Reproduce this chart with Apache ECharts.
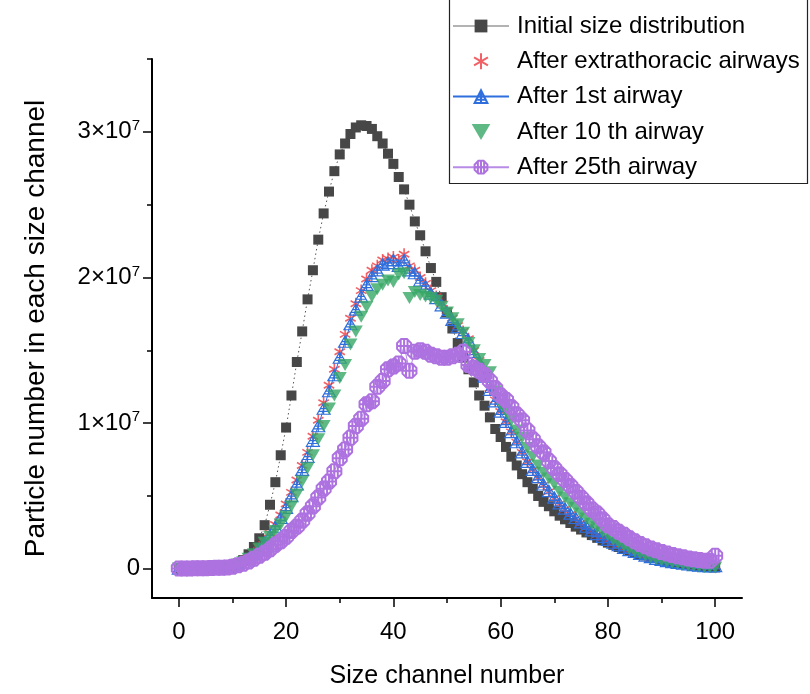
<!DOCTYPE html>
<html>
<head>
<meta charset="utf-8">
<script src="https://cdn.jsdelivr.net/npm/echarts@6/dist/echarts.min.js"></script>
<style>html,body{margin:0;padding:0;background:#fff}#c{width:810px;height:694px}</style>
</head>
<body>
<div id="c"></div>
<script>
// Values in units of 1e7 particles
const channels = [0,1,2,3,4,5,6,7,8,9,10,11,12,13,14,15,16,17,18,19,20,21,22,23,24,25,26,27,28,29,30,31,32,33,34,35,36,37,38,39,40,41,42,43,44,45,46,47,48,49,50,51,52,53,54,55,56,57,58,59,60,61,62,63,64,65,66,67,68,69,70,71,72,73,74,75,76,77,78,79,80,81,82,83,84,85,86,87,88,89,90,91,92,93,94,95,96,97,98,99,100];

const initialDist = [0.002,0.002,0.002,0.003,0.004,0.005,0.006,0.008,0.011,0.015,
0.022,0.035,0.06,0.10,0.15,0.21,0.30,0.44,0.595,0.78,
0.97,1.19,1.42,1.63,1.85,2.05,2.26,2.44,2.59,2.73,
2.845,2.92,2.985,3.03,3.045,3.04,3.02,2.97,2.92,2.85,
2.78,2.69,2.605,2.50,2.385,2.29,2.18,2.065,1.97,1.865,
1.76,1.65,1.55,1.45,1.37,1.28,1.19,1.12,1.04,0.96,
0.905,0.837,0.77,0.71,0.65,0.595,0.55,0.50,0.46,0.43,
0.395,0.365,0.34,0.315,0.29,0.27,0.25,0.232,0.213,0.195,
0.18,0.165,0.15,0.137,0.124,0.113,0.102,0.092,0.083,0.075,
0.068,0.06,0.053,0.046,0.04,0.034,0.028,0.022,0.018,0.014,0.01];

const afterExtrathoracic = [0.002,0.002,0.003,0.003,0.004,0.005,0.006,0.008,0.011,0.015,
0.02,0.03,0.05,0.075,0.11,0.15,0.19,0.245,0.305,0.37,
0.445,0.525,0.61,0.71,0.80,0.91,1.02,1.14,1.26,1.37,
1.49,1.61,1.72,1.82,1.91,1.99,2.05,2.08,2.12,2.13,
2.14,2.12,2.16,2.08,2.05,2.00,1.96,1.91,1.87,1.82,
1.77,1.72,1.67,1.63,1.58,1.50,1.43,1.33,1.24,1.16,
1.08,1.01,0.94,0.87,0.80,0.735,0.68,0.625,0.575,0.53,
0.485,0.445,0.41,0.375,0.345,0.315,0.285,0.26,0.235,0.215,
0.195,0.177,0.16,0.143,0.128,0.115,0.102,0.09,0.079,0.069,
0.06,0.052,0.045,0.039,0.034,0.029,0.025,0.022,0.019,0.017,0.02];

const after1st = [0.002,0.002,0.003,0.003,0.004,0.005,0.006,0.008,0.011,0.015,
0.02,0.03,0.045,0.07,0.10,0.14,0.18,0.23,0.29,0.35,
0.42,0.50,0.58,0.68,0.77,0.88,0.98,1.10,1.22,1.33,
1.45,1.56,1.68,1.78,1.87,1.95,2.01,2.05,2.09,2.10,
2.12,2.08,2.12,2.05,2.03,1.98,1.94,1.89,1.86,1.81,
1.76,1.71,1.66,1.62,1.57,1.49,1.42,1.32,1.23,1.15,
1.08,1.01,0.94,0.87,0.80,0.735,0.68,0.63,0.58,0.535,
0.49,0.45,0.415,0.38,0.35,0.32,0.29,0.265,0.24,0.22,
0.20,0.18,0.163,0.145,0.13,0.117,0.104,0.092,0.081,0.07,
0.062,0.054,0.047,0.041,0.036,0.031,0.027,0.023,0.02,0.018,0.02];

const after10th = [0.002,0.002,0.003,0.003,0.004,0.005,0.006,0.008,0.011,0.015,
0.02,0.03,0.045,0.07,0.10,0.14,0.18,0.22,0.26,0.305,
0.36,0.43,0.51,0.60,0.69,0.78,0.89,0.98,1.10,1.19,
1.31,1.40,1.54,1.63,1.73,1.80,1.87,1.92,1.95,1.98,
1.97,2.02,2.03,1.86,1.90,1.88,1.87,1.86,1.84,1.80,
1.76,1.72,1.68,1.62,1.55,1.50,1.44,1.40,1.35,1.22,
1.13,1.08,1.02,0.95,0.90,0.83,0.77,0.71,0.66,0.62,
0.58,0.53,0.49,0.45,0.42,0.38,0.345,0.31,0.285,0.255,
0.23,0.20,0.18,0.158,0.138,0.12,0.105,0.092,0.08,0.068,
0.058,0.05,0.043,0.036,0.03,0.025,0.02,0.016,0.013,0.011,0.01];

const after25th = [0.003,0.003,0.003,0.004,0.004,0.005,0.006,0.007,0.008,0.01,
0.015,0.025,0.035,0.05,0.07,0.09,0.11,0.135,0.165,0.19,
0.22,0.26,0.29,0.33,0.38,0.43,0.49,0.55,0.60,0.67,
0.76,0.82,0.90,0.98,1.03,1.13,1.15,1.25,1.29,1.37,
1.39,1.41,1.53,1.36,1.49,1.50,1.49,1.47,1.46,1.45,
1.45,1.46,1.47,1.49,1.40,1.38,1.36,1.33,1.29,1.24,
1.19,1.16,1.11,1.06,1.02,0.95,0.89,0.84,0.80,0.74,
0.69,0.65,0.61,0.57,0.53,0.49,0.45,0.41,0.38,0.34,
0.30,0.28,0.255,0.235,0.21,0.19,0.17,0.155,0.14,0.127,
0.115,0.105,0.095,0.087,0.08,0.072,0.066,0.06,0.056,0.055,0.09];

const seriesNames = ['Initial size distribution','After extrathoracic airways','After 1st airway','After 10 th airway','After 25th airway'];
const xTickLabels = [0,20,40,60,80,100];
const xMinorTicks = [10,30,50,70,90];
const yTickLabels = [0,1,2,3];
const yMinorTicks = [0.5,1.5,2.5,3.5];

const pairs = arr => channels.map((c,i)=>[c, arr[i]]);

const FONT = '"Liberation Sans", Arial, sans-serif';
const asterisk = 'path://M0,-6 L0,6 M-5.2,-3 L5.2,3 M-5.2,3 L5.2,-3';
const triOpen = 'path://M0,-10 L8.66,5 L-8.66,5 Z M0,-10 L0,5 M-4.33,-2.5 L4.33,-2.5 M-6.5,1.25 L6.5,1.25';
const triDown = 'path://M-7,-6 L7,-6 L0,6 Z';
const circPlus = 'path://M-3.8,-9.2 L3.8,-9.2 L9.2,-3.8 L9.2,3.8 L3.8,9.2 L-3.8,9.2 L-9.2,3.8 L-9.2,-3.8 Z M0,-9.2 L0,9.2 M-9.2,0 L9.2,0 M-4.5,-9 L-4.5,9 M4.5,-9 L4.5,9';

const chart = echarts.init(document.getElementById('c'), null, {renderer:'canvas'});

const option = {
  animation:false,
  backgroundColor:'#fff',
  textStyle:{fontFamily:FONT},
  grid:{left:152, right:68, top:59, bottom:90},
  graphic:[{
    type:'rect', shape:{x:449.5, y:-5, width:358, height:188.5},
    style:{fill:'none', stroke:'#222', lineWidth:1.2}, z:0
  }],
  legend:{
    orient:'vertical', left:452, top:14, padding:0,
    itemWidth:56, itemHeight:16, itemGap:11.3,
    textStyle:{fontSize:24, color:'#000', fontFamily:FONT, lineHeight:24, padding:[0,0,0,3]},
    data:[
      {name:seriesNames[0], lineStyle:{type:'solid', color:'#666', width:1}},
      {name:seriesNames[1]},
      {name:seriesNames[2]},
      {name:seriesNames[3]},
      {name:seriesNames[4]}
    ]
  },
  xAxis:[{
    type:'value', min:-5, max:105,
    axisLine:{show:true, onZero:false, lineStyle:{color:'#000', width:2}},
    axisTick:{show:true, length:9, lineStyle:{color:'#000', width:1.5}, customValues:xTickLabels},
    axisLabel:{show:true, customValues:xTickLabels, fontSize:24, color:'#000', margin:22, fontFamily:FONT},
    splitLine:{show:false},
    name:'Size channel number', nameLocation:'middle', nameGap:66,
    nameTextStyle:{fontSize:25, color:'#000', fontFamily:FONT}
  },{
    type:'value', min:-5, max:105, position:'bottom',
    axisLine:{show:false, onZero:false},
    axisTick:{show:true, length:5, lineStyle:{color:'#000', width:1.5}, customValues:xMinorTicks},
    axisLabel:{show:false}, splitLine:{show:false}
  }],
  yAxis:[{
    type:'value', min:-0.2, max:3.5,
    axisLine:{show:true, onZero:false, lineStyle:{color:'#000', width:2}},
    axisTick:{show:true, length:9, lineStyle:{color:'#000', width:1.5}, customValues:yTickLabels},
    axisLabel:{show:true, customValues:yTickLabels, color:'#000', margin:12,
      formatter: v => v === 0 ? '{a|0}' : '{a|' + v + '×10}{s|7}',
      rich:{a:{fontSize:24, fontFamily:FONT, color:'#000'}, s:{fontSize:15, fontFamily:FONT, color:'#000', padding:[0,0,12,0]}}
    },
    splitLine:{show:false},
    name:'Particle number in each size channel', nameLocation:'middle', nameGap:102,
    nameTextStyle:{fontSize:28, color:'#000', fontFamily:FONT}
  },{
    type:'value', min:-0.2, max:3.5, position:'left',
    axisLine:{show:false, onZero:false},
    axisTick:{show:true, length:5, lineStyle:{color:'#000', width:1.5}, customValues:yMinorTicks},
    axisLabel:{show:false}, splitLine:{show:false}
  }],
  series:[
    {
      name:seriesNames[0], type:'line', data:pairs(initialDist),
      symbol:'rect', symbolSize:10,
      itemStyle:{color:'#474747'},
      lineStyle:{color:'#555', width:1, type:[1.5,3]},
      z:2
    },
    {
      name:seriesNames[1], type:'scatter', data:pairs(afterExtrathoracic),
      symbol:asterisk, symbolSize:12, symbolKeepAspect:true,
      itemStyle:{color:'rgba(0,0,0,0)', borderColor:'#ee3a3e', borderWidth:1.6},
      z:3
    },
    {
      name:seriesNames[2], type:'line', data:pairs(after1st),
      symbol:triOpen, symbolSize:13, symbolKeepAspect:true,
      itemStyle:{color:'rgba(255,255,255,0)', borderColor:'#2e6fdd', borderWidth:1.2},
      lineStyle:{color:'#2e6fdd', width:1},
      z:4
    },
    {
      name:seriesNames[3], type:'scatter', data:pairs(after10th),
      symbol:triDown, symbolSize:14, symbolKeepAspect:true,
      itemStyle:{color:'#37a865'},
      z:5
    },
    {
      name:seriesNames[4], type:'line', data:pairs(after25th),
      symbol:circPlus, symbolSize:14, symbolKeepAspect:true,
      itemStyle:{color:'rgba(255,255,255,0)', borderColor:'#ad72e0', borderWidth:2},
      lineStyle:{color:'#b88be6', width:1},
      z:6
    }
  ]
};
chart.setOption(option);
</script>
</body>
</html>
